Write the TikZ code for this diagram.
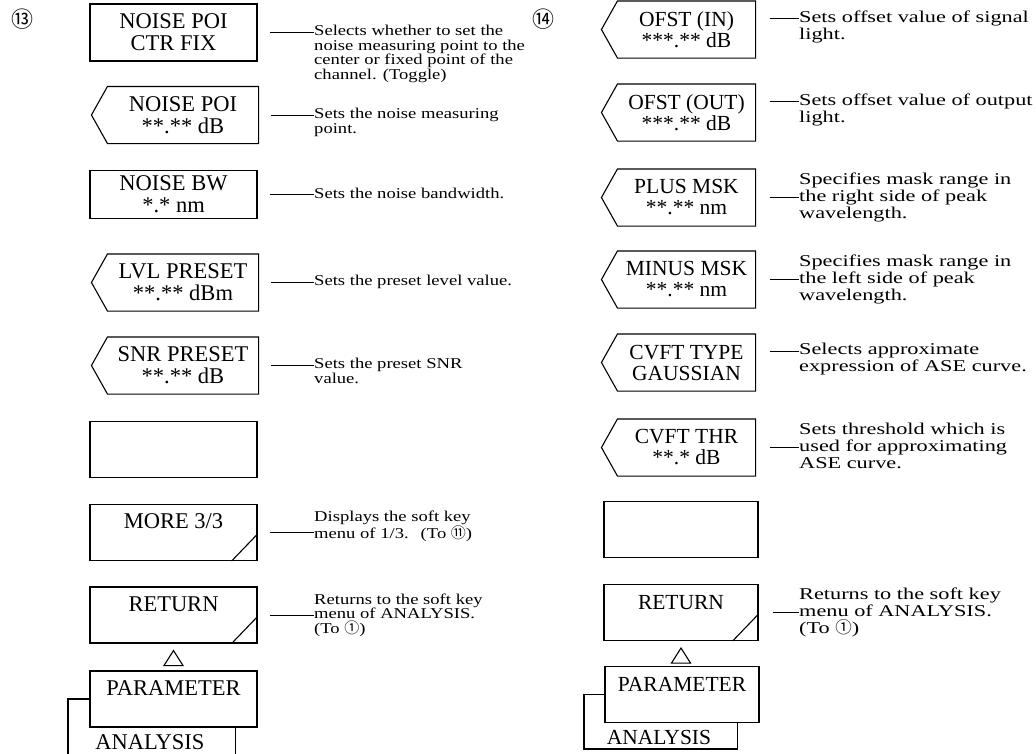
\documentclass[tikz,border=0pt]{standalone}
\usepackage{fontspec}
\setmainfont{Liberation Serif}
\newfontfamily\descfont{Liberation Serif}[FakeStretch=1.24]
\newfontfamily\wdescfont{Liberation Serif}[FakeStretch=1.35]
\newfontfamily\circfont{Noto Sans CJK JP}
\usetikzlibrary{positioning, calc}

\begin{document}
\begin{tikzpicture}[
    x=1pt, y=-1pt,
    keyline/.style={
        line width=1.1pt,
        line join=miter
    },
    softkey/.style={
        rectangle,
        draw,
        keyline,
        inner sep=0pt,
        align=center,
        minimum width=167pt,
        minimum height=56pt,
        font=\fontsize{22.5}{22}\selectfont
    },
    pointkey/.style={softkey, draw=none, minimum width=150pt},
    rsoftkey/.style={softkey, minimum width=154pt, font=\fontsize{21.5}{21}\selectfont},
    rpointkey/.style={rsoftkey, draw=none, minimum width=137pt},
    desc/.style={
        anchor=north west,
        inner sep=0pt,
        align=left,
        font=\descfont\fontsize{15}{14.6}\selectfont
    },
    rdesc/.style={desc, font=\wdescfont\fontsize{16.5}{17}\selectfont},
    lead/.style={line width=0.9pt}
]
\useasboundingbox (0,0) rectangle (1036,753);

\node[font=\circfont\fontsize{22}{22}\selectfont] (c13) at (22,19)  {⑬};
\node[font=\circfont\fontsize{22}{22}\selectfont] (c14) at (543,19) {⑭};

% left menu
\node[softkey, minimum height=57pt] (k1) at (173.5,32.5) {NOISE POI\\CTR FIX};
\node[pointkey] (k2) at (183,115)   {NOISE POI\\**.** dB};
\node[softkey, minimum height=48pt] (k3) at (173.5,194.5) {NOISE BW\\*.* nm};
\node[pointkey] (k4) at (183,282.5) {LVL PRESET\\**.** dBm};
\node[pointkey] (k5) at (183,365.5) {SNR PRESET\\**.** dB};
\node[softkey]  (k6) at (173.5,449.5) {};
\node[softkey]  (k7) at (173.5,532.5) {MORE 3/3\\\phantom{M}};
\node[softkey]  (k8) at (173.5,615)   {RETURN\\\phantom{M}};
\node[softkey]  (k9) at (173.5,699)   {PARAMETER\\\phantom{M}};

\node[desc] (d1) at (314,25)  {Selects whether to set the\\noise measuring point to the\\center or fixed point of the\\channel. (Toggle)};
\node[desc] (d2) at (314,108) {Sets the noise measuring\\point.};
\node[desc] (d3) at (314,188) {Sets the noise bandwidth.};
\node[desc] (d4) at (314,275) {Sets the preset level value.};
\node[desc] (d5) at (314,358) {Sets the preset SNR\\value.};
\node[desc] (d7) at (314,511) {Displays the soft key\\menu of 1/3.\hspace{12pt}(To {\circfont ⑪})};
\node[desc] (d8) at (314,593.5) {Returns to the soft key\\menu of ANALYSIS.\\(To {\circfont ①})};

\foreach \k/\d in {k1/d1, k2/d2, k3/d3, k4/d4, k5/d5, k7/d7, k8/d8}
    \draw[lead] ([xshift=12pt]\k.east) -- (\k.east -| \d.west);

% right menu
\node[rpointkey] (r1) at (686.5,29.5)  {OFST (IN)\\***.** dB};
\node[rpointkey] (r2) at (686.5,112.5) {OFST (OUT)\\***.** dB};
\node[rpointkey] (r3) at (686.5,197.5) {PLUS MSK\\**.** nm};
\node[rpointkey] (r4) at (686.5,279.5) {MINUS MSK\\**.** nm};
\node[rpointkey] (r5) at (686.5,362.5) {CVFT TYPE\\GAUSSIAN};
\node[rpointkey] (r6) at (686.5,447.5) {CVFT THR\\**.* dB};
\node[rsoftkey]  (r7) at (681,529.5)   {};
\node[rsoftkey]  (r8) at (681,612.5)   {RETURN\\\phantom{M}};
\node[rsoftkey]  (r9) at (682,694.5)   {PARAMETER\\\phantom{M}};

\node[rdesc] (e1) at (799,10.5)  {Sets offset value of signal\\light.};
\node[rdesc] (e2) at (799,93.5)  {Sets offset value of output\\light.};
\node[rdesc] (e3) at (799,173)   {Specifies mask range in\\the right side of peak\\wavelength.};
\node[rdesc] (e4) at (799,255)   {Specifies mask range in\\the left side of peak\\wavelength.};
\node[rdesc] (e5) at (799,342.5) {Selects approximate\\expression of ASE curve.};
\node[rdesc] (e6) at (799,423)   {Sets threshold which is\\used for approximating\\ASE curve.};
\node[rdesc] (e8) at (799,588)   {Returns to the soft key\\menu of ANALYSIS.\\(To {\circfont ①})};

\foreach \k/\d in {r3/e3, r4/e4, r6/e6, r8/e8}
    \draw[lead] ([xshift=14pt]\k.east) -- (\k.east -| \d.west);
\foreach \k/\d in {r1/e1, r2/e2, r5/e5}
    \draw[lead] ([xshift=14pt,yshift=11.5pt]\k.east) -- ([yshift=11.5pt]\k.east -| \d.west);

% pointed keys, corner marks, up triangles
\foreach \k in {k2,k4,k5,r1,r2,r3,r4,r5,r6}
    \draw[keyline] (\k.north west) -- (\k.north east) -- (\k.south east)
        -- (\k.south west) -- ([xshift=-16pt]\k.west) -- cycle;
\foreach \k in {k7,k8,r8}
    \draw[keyline] ([xshift=-26pt]\k.south east) -- ([yshift=27pt]\k.south east);
\foreach \k in {k8,r8}
    \draw[keyline] ([yshift=-7pt]\k.south) -- ++(9.5,15) -- ++(-19,0) -- cycle;

% ANALYSIS tabs
\coordinate (a1) at (68,760);
\draw[keyline] (k9.west) -| (a1);
\draw[keyline] ([xshift=-22pt]k9.south east) -- ++(0,40);
\node[font=\fontsize{22.5}{22}\selectfont] (an1) at (150,742) {ANALYSIS};

\coordinate (a2) at (584,749);
\draw[keyline] (r9.west) -| (a2) -| ([xshift=-22pt]r9.south east);
\node[font=\fontsize{21.5}{21}\selectfont] (an2) at (659,737) {ANALYSIS};

\end{tikzpicture}
\end{document}
